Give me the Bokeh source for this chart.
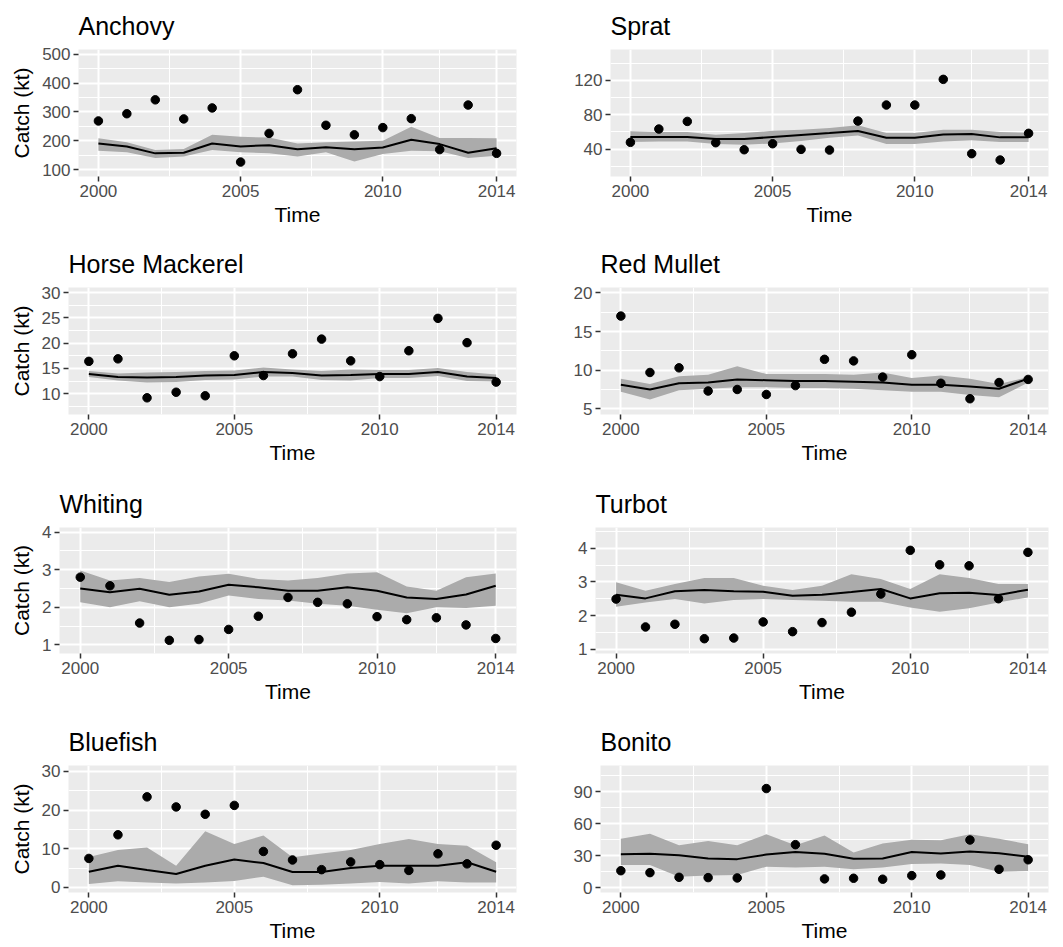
from bokeh.plotting import figure
from bokeh.layouts import column, row
from bokeh.models import Range1d, FixedTicker, ColumnDataSource
from bokeh.embed import file_html
from bokeh.resources import INLINE

years = list(range(2000, 2015))

anchovy_obs = [269, 294, 342, 276, 314, 127, 226, 377, 254, 221, 246, 277, 170, 324, 157]
anchovy_fit = [191, 181, 157, 159, 191, 181, 185, 171, 178, 171, 177, 204, 189, 159, 175]
anchovy_lo = [166, 161, 141, 146, 169, 161, 157, 146, 161, 129, 155, 166, 164, 141, 149]
anchovy_hi = [209, 195, 169, 172, 221, 214, 212, 191, 195, 198, 201, 249, 210, 210, 209]

sprat_obs = [47.8, 63.3, 72.2, 47.4, 39.2, 46.2, 39.6, 38.8, 72.6, 91.3, 91.3, 121.2, 34.6, 27.2, 58.3]
sprat_fit = [54.0, 54.0, 54.0, 51.7, 51.7, 54.0, 56.3, 58.6, 61.0, 53.2, 53.2, 57.0, 57.5, 53.6, 53.6]
sprat_lo = [48.2, 48.9, 48.9, 45.8, 45.0, 46.6, 49.3, 53.2, 55.9, 45.8, 45.8, 48.9, 50.1, 48.2, 48.2]
sprat_hi = [60.6, 59.8, 59.8, 56.7, 58.6, 61.3, 62.5, 64.4, 67.6, 58.6, 58.6, 62.5, 62.5, 59.8, 59.0]

horse_obs = [16.4, 16.9, 9.2, 10.3, 9.6, 17.5, 13.6, 17.9, 20.8, 16.5, 13.4, 18.5, 24.9, 20.1, 12.3]
horse_fit = [13.9, 13.3, 13.2, 13.3, 13.6, 13.7, 14.3, 14.1, 13.6, 13.7, 13.9, 13.9, 14.3, 13.4, 13.1]
horse_lo = [13.3, 12.6, 12.2, 12.3, 12.7, 12.8, 13.4, 13.4, 12.7, 12.6, 13.1, 13.1, 13.5, 12.5, 12.4]
horse_hi = [14.5, 14.0, 14.2, 14.3, 14.5, 14.6, 15.2, 14.8, 14.5, 14.8, 14.7, 14.7, 15.1, 14.3, 13.8]

mullet_obs = [17.0, 9.7, 10.3, 7.3, 7.5, 6.85, 8.0, 11.4, 11.2, 9.1, 12.0, 8.3, 6.3, 8.4, 8.8]
mullet_fit = [8.1, 7.5, 8.3, 8.4, 8.8, 8.7, 8.6, 8.6, 8.5, 8.4, 8.1, 8.1, 7.9, 7.6, 8.9]
mullet_lo = [7.2, 6.2, 7.4, 7.6, 7.8, 7.8, 7.7, 7.7, 7.6, 7.4, 7.2, 7.2, 6.8, 6.5, 8.4]
mullet_hi = [8.9, 8.2, 9.2, 9.4, 10.5, 9.5, 9.5, 9.5, 9.4, 9.7, 9.0, 9.3, 8.9, 8.2, 9.1]

whiting_obs = [2.8, 2.57, 1.58, 1.12, 1.14, 1.41, 1.76, 2.26, 2.13, 2.09, 1.75, 1.67, 1.72, 1.53, 1.17]
whiting_fit = [2.5, 2.4, 2.49, 2.33, 2.42, 2.6, 2.53, 2.44, 2.44, 2.53, 2.44, 2.26, 2.22, 2.34, 2.57]
whiting_lo = [2.13, 2.0, 2.16, 2.0, 2.09, 2.31, 2.22, 2.18, 2.09, 2.04, 1.93, 1.84, 2.0, 1.98, 2.04]
whiting_hi = [2.98, 2.71, 2.78, 2.67, 2.82, 2.89, 2.75, 2.71, 2.78, 2.9, 2.93, 2.55, 2.44, 2.8, 2.9]

turbot_obs = [2.49, 1.66, 1.74, 1.31, 1.33, 1.81, 1.52, 1.79, 2.1, 2.64, 3.94, 3.51, 3.48, 2.5, 3.88]
turbot_fit = [2.62, 2.51, 2.72, 2.76, 2.72, 2.71, 2.59, 2.62, 2.7, 2.79, 2.51, 2.66, 2.68, 2.61, 2.77]
turbot_lo = [2.26, 2.39, 2.49, 2.36, 2.46, 2.49, 2.46, 2.44, 2.41, 2.41, 2.24, 2.11, 2.22, 2.39, 2.54]
turbot_hi = [2.99, 2.74, 2.94, 3.12, 3.12, 2.89, 2.76, 2.89, 3.23, 3.09, 2.79, 3.23, 3.12, 2.94, 2.94]

bluefish_obs = [7.5, 13.6, 23.4, 20.8, 18.9, 21.2, 9.3, 7.1, 4.6, 6.6, 5.9, 4.4, 8.7, 6.1, 10.9]
bluefish_fit = [4.05, 5.6, 4.5, 3.5, 5.6, 7.2, 6.3, 4.0, 4.0, 5.0, 5.6, 5.6, 5.6, 6.5, 4.05]
bluefish_lo = [0.9, 1.6, 1.3, 1.0, 1.3, 1.7, 2.8, 0.6, 0.7, 1.0, 1.4, 1.0, 1.6, 1.3, 1.3]
bluefish_hi = [7.9, 9.7, 10.3, 5.6, 14.5, 11.2, 13.4, 7.8, 8.8, 9.7, 11.2, 12.5, 11.2, 10.8, 6.5]

bonito_obs = [15.8, 14.0, 9.6, 9.3, 9.0, 93.1, 40.3, 8.1, 8.7, 7.8, 11.2, 11.8, 44.7, 17.1, 26.1]
bonito_fit = [31.3, 31.7, 30.4, 27.3, 26.7, 31.0, 33.5, 31.7, 27.0, 27.3, 33.5, 32.0, 33.8, 32.3, 28.9]
bonito_lo = [21.1, 21.1, 10.2, 11.2, 11.8, 19.6, 18.9, 19.6, 17.1, 18.9, 22.0, 22.7, 21.1, 14.9, 15.5]
bonito_hi = [45.9, 50.6, 39.7, 43.8, 39.7, 50.0, 39.7, 49.0, 32.9, 41.3, 45.0, 44.4, 50.0, 45.9, 40.7]

x_ticks = [2000, 2005, 2010, 2014]
x_minor = [2002.5, 2007.5, 2012]

FONT = "Liberation Sans"

panels = [
    # name, obs, fit, lo, hi, y range, y ticks, y minor, left border, top, bottom, width, height, ylabel
    ("Anchovy", anchovy_obs, anchovy_fit, anchovy_lo, anchovy_hi, (77, 516), [100, 200, 300, 400, 500], [150, 250, 350, 450], 78, 48, 61, 531, 237, True),
    ("Sprat", sprat_obs, sprat_fit, sprat_lo, sprat_hi, (8, 156), [40, 80, 120], [20, 60, 100, 140], 79, 48, 61, 532, 237, False),
    ("Horse Mackerel", horse_obs, horse_fit, horse_lo, horse_hi, (5.9, 31), [10, 15, 20, 25, 30], [7.5, 12.5, 17.5, 22.5, 27.5], 68, 50, 60, 531, 237, True),
    ("Red Mullet", mullet_obs, mullet_fit, mullet_lo, mullet_hi, (4.26, 20.7), [5, 10, 15, 20], [7.5, 12.5, 17.5], 69, 50, 60, 532, 237, False),
    ("Whiting", whiting_obs, whiting_fit, whiting_lo, whiting_hi, (0.77, 4.12), [1, 2, 3, 4], [1.5, 2.5, 3.5], 59, 53, 58, 531, 237, True),
    ("Turbot", turbot_obs, turbot_fit, turbot_lo, turbot_hi, (0.87, 4.62), [1, 2, 3, 4], [1.5, 2.5, 3.5, 4.5], 64, 53, 58, 532, 237, False),
    ("Bluefish", bluefish_obs, bluefish_fit, bluefish_lo, bluefish_hi, (-1.3, 31.5), [0, 10, 20, 30], [5, 15, 25], 68, 54, 55, 531, 236, True),
    ("Bonito", bonito_obs, bonito_fit, bonito_lo, bonito_hi, (-4.7, 114.8), [0, 30, 60, 90], [15, 45, 75, 105], 69, 54, 55, 532, 236, False),
]


def make_panel(name, obs, fit, lo, hi, yr, yt, ym, left, top, bottom, width, height, ylab):
    src = ColumnDataSource(dict(year=years, obs=obs, fit=fit, lo=lo, hi=hi))
    p = figure(width=width, height=height, x_range=Range1d(1999.3, 2014.7),
               y_range=Range1d(*yr), output_backend="svg", toolbar_location=None,
               min_border_left=left, min_border_right=15, min_border_top=top,
               min_border_bottom=bottom)
    p.background_fill_color = "#EBEBEB"
    p.border_fill_color = "white"
    p.outline_line_color = None

    p.title.text = name
    p.title.text_font = FONT
    p.title.text_font_size = "25px"
    p.title.text_font_style = "normal"
    p.title.text_color = "black"
    p.title.align = "left"
    p.title.standoff = 19

    p.xaxis.ticker = FixedTicker(ticks=x_ticks, minor_ticks=x_minor)
    p.yaxis.ticker = FixedTicker(ticks=yt, minor_ticks=ym)
    for ax in (p.xaxis, p.yaxis):
        ax.axis_line_color = None
        ax.major_tick_line_color = "#333333"
        ax.major_tick_line_width = 1.5
        ax.major_tick_out = 5
        ax.major_tick_in = 0
        ax.minor_tick_line_color = None
        ax.major_label_text_font = FONT
        ax.major_label_text_font_size = "17px"
        ax.major_label_text_color = "#4D4D4D"
        ax.major_label_standoff = 3
        ax.axis_label_text_font = FONT
        ax.axis_label_text_font_size = "21px"
        ax.axis_label_text_font_style = "normal"
        ax.axis_label_text_color = "black"
    p.xaxis.axis_label = "Time"
    p.xaxis.axis_label_standoff = 3
    if ylab:
        p.yaxis.axis_label = "Catch (kt)"
        p.yaxis.axis_label_standoff = 6

    for g in (p.xgrid, p.ygrid):
        g.grid_line_color = "white"
        g.grid_line_width = 2
        g.minor_grid_line_color = "white"
        g.minor_grid_line_width = 1

    p.varea(x="year", y1="lo", y2="hi", source=src, fill_color="#ABABAB", fill_alpha=1.0)
    p.line(x="year", y="fit", source=src, line_color="black", line_width=2)
    p.scatter(x="year", y="obs", source=src, size=8.5, fill_color="black", line_color="black")
    return p


figs = [make_panel(*spec) for spec in panels]
layout = column(*[row(figs[i], figs[i + 1]) for i in range(0, 8, 2)])

open("out.html", "w").write(file_html(layout, INLINE))
